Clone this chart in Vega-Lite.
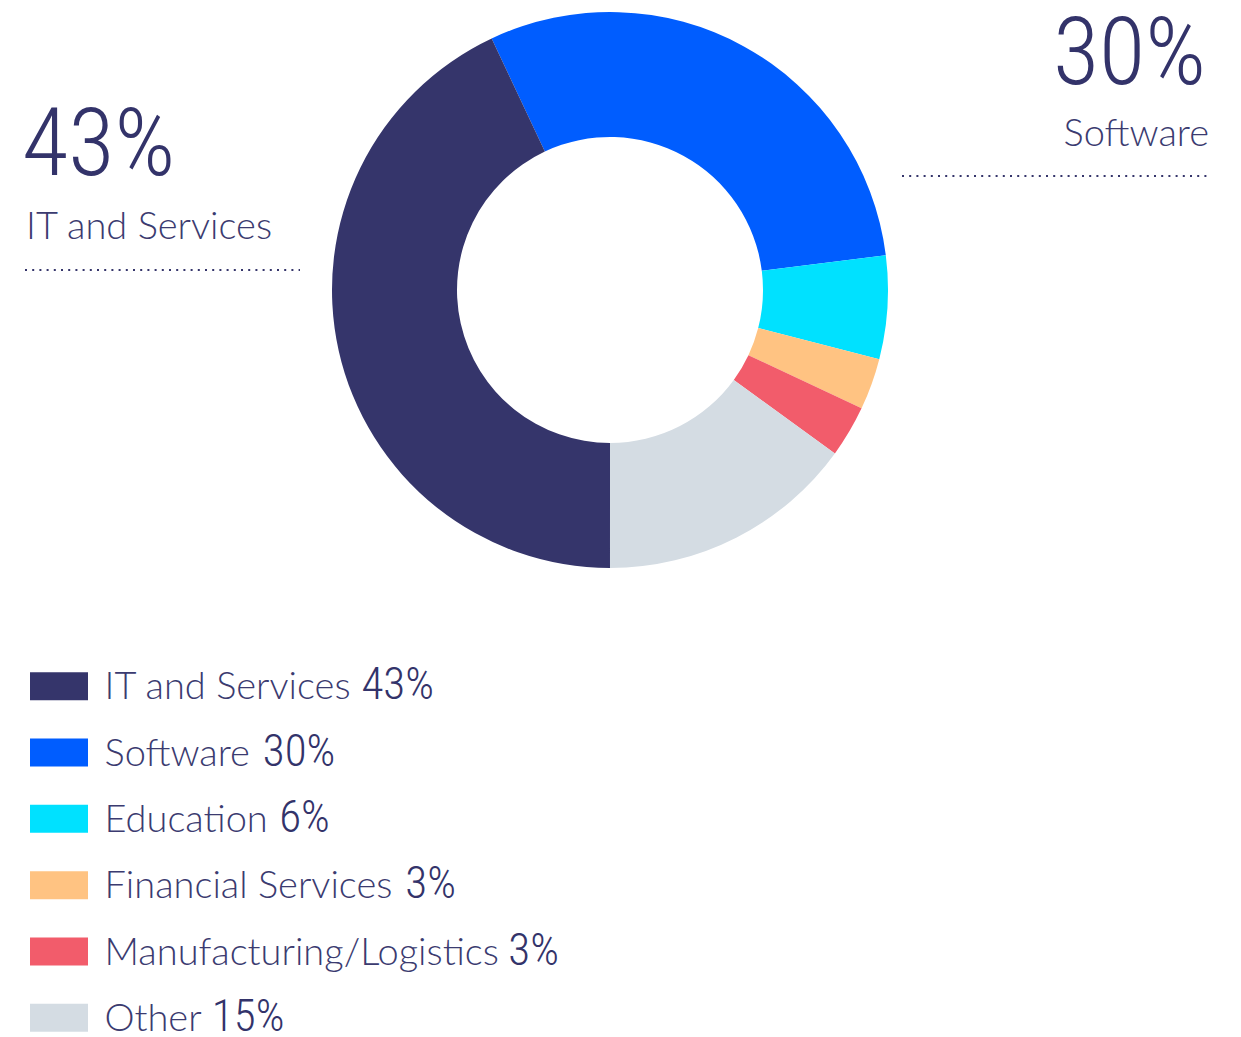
{
  "$schema": "https://vega.github.io/schema/vega-lite/v6.json",
  "padding": 0,
  "background": "white",
  "spacing": 73,
  "config": {"view": {"stroke": null}},
  "datasets": {
    "shares": [
      {"name": "Software", "pct": 30, "ord": 1, "label": "30%"},
      {"name": "Education", "pct": 6, "ord": 2, "label": "6%"},
      {"name": "Financial Services", "pct": 3, "ord": 3, "label": "3%"},
      {"name": "Manufacturing/Logistics", "pct": 3, "ord": 4, "label": "3%"},
      {"name": "Other", "pct": 15, "ord": 5, "label": "15%"},
      {"name": "IT and Services", "pct": 43, "ord": 6, "label": "43%"}
    ],
    "callouts": [
      {"side": "left", "pct": "43%", "name": "IT and Services"},
      {"side": "right", "pct": "30%", "name": "Software"}
    ]
  },
  "vconcat": [
    {
      "width": 1220,
      "height": 580,
      "layer": [
        {
          "data": {"name": "shares"},
          "mark": {"type": "arc", "innerRadius": 153, "outerRadius": 278},
          "encoding": {
            "theta": {"field": "pct", "type": "quantitative", "stack": true, "scale": {"range": [-0.4398, 5.8434]}},
            "color": {
              "field": "name", "type": "nominal", "legend": null,
              "scale": {
                "domain": ["IT and Services", "Software", "Education", "Financial Services", "Manufacturing/Logistics", "Other"],
                "range": ["#35356b", "#005dff", "#00e1ff", "#ffc382", "#f25c6b", "#d4dce3"]
              }
            },
            "order": {"field": "ord", "type": "quantitative"}
          }
        },
        {
          "data": {"name": "callouts"},
          "transform": [{"filter": "datum.side == 'left'"}],
          "mark": {"type": "text", "align": "left", "baseline": "alphabetic", "font": "Roboto Condensed", "fontWeight": 350, "fontSize": 95, "color": "#33336a", "dx": -3},
          "encoding": {
            "x": {"field": "side", "type": "nominal", "scale": {"type": "point", "domain": ["left", "right"], "range": [25, 1208], "padding": 0}, "axis": null},
            "y": {"field": "side", "type": "nominal", "scale": {"type": "point", "domain": ["left", "right"], "range": [175, 84], "padding": 0}, "axis": null},
            "text": {"field": "pct"}
          }
        },
        {
          "data": {"name": "callouts"},
          "transform": [{"filter": "datum.side == 'right'"}],
          "mark": {"type": "text", "align": "right", "baseline": "alphabetic", "font": "Roboto Condensed", "fontWeight": 350, "fontSize": 95, "color": "#33336a", "dx": -2},
          "encoding": {
            "x": {"field": "side", "type": "nominal"},
            "y": {"field": "side", "type": "nominal"},
            "text": {"field": "pct"}
          }
        },
        {
          "data": {"name": "callouts"},
          "transform": [{"filter": "datum.side == 'left'"}],
          "mark": {"type": "text", "align": "left", "baseline": "alphabetic", "font": "Lato", "fontWeight": 300, "fontSize": 38, "color": "#3b3b70", "dy": 64, "dx": 1},
          "encoding": {
            "x": {"field": "side", "type": "nominal"},
            "y": {"field": "side", "type": "nominal"},
            "text": {"field": "name"}
          }
        },
        {
          "data": {"name": "callouts"},
          "transform": [{"filter": "datum.side == 'right'"}],
          "mark": {"type": "text", "align": "right", "baseline": "alphabetic", "font": "Lato", "fontWeight": 300, "fontSize": 38, "color": "#3b3b70", "dy": 62, "dx": 1},
          "encoding": {
            "x": {"field": "side", "type": "nominal"},
            "y": {"field": "side", "type": "nominal"},
            "text": {"field": "name"}
          }
        },
        {
          "data": {"name": "callouts"},
          "transform": [{"filter": "datum.side == 'left'"}],
          "mark": {"type": "rule", "color": "#35356b", "strokeWidth": 2, "strokeDash": [2, 5.2], "yOffset": 95, "x2Offset": 275},
          "encoding": {
            "x": {"field": "side", "type": "nominal"},
            "x2": {"field": "side"},
            "y": {"field": "side", "type": "nominal"}
          }
        },
        {
          "data": {"name": "callouts"},
          "transform": [{"filter": "datum.side == 'right'"}],
          "mark": {"type": "rule", "color": "#35356b", "strokeWidth": 2, "strokeDash": [2, 5.2], "yOffset": 92, "xOffset": -306, "x2Offset": 2},
          "encoding": {
            "x": {"field": "side", "type": "nominal"},
            "x2": {"field": "side"},
            "y": {"field": "side", "type": "nominal"}
          }
        }
      ]
    },
    {
      "width": 1220,
      "height": 398,
      "data": {"name": "shares"},
      "encoding": {
        "y": {
          "field": "name", "type": "nominal", "axis": null,
          "scale": {"type": "point", "padding": 0.5, "domain": ["IT and Services", "Software", "Education", "Financial Services", "Manufacturing/Logistics", "Other"]}
        }
      },
      "layer": [
        {
          "mark": {"type": "point", "shape": "M-1,-0.4828H1V0.4828H-1Z", "filled": true, "size": 3364, "opacity": 1, "strokeWidth": 0},
          "encoding": {
            "x": {"datum": "swatch", "type": "nominal", "scale": {"type": "point", "domain": ["swatch", "name"], "range": [59, 104.5], "padding": 0}, "axis": null},
            "color": {
              "field": "name", "type": "nominal", "legend": null,
              "scale": {
                "domain": ["IT and Services", "Software", "Education", "Financial Services", "Manufacturing/Logistics", "Other"],
                "range": ["#35356b", "#005dff", "#00e1ff", "#ffc382", "#f25c6b", "#d4dce3"]
              }
            }
          }
        },
        {
          "mark": {"type": "text", "align": "left", "baseline": "alphabetic", "dy": 13, "font": "Lato", "fontWeight": 300, "fontSize": 38, "color": "#3b3b70"},
          "encoding": {
            "x": {"datum": "name", "type": "nominal"},
            "text": {"field": "name"}
          }
        },
        {
          "mark": {
            "type": "text", "align": "left", "baseline": "alphabetic", "dy": 13,
            "dx": {"expr": "(8.4*length(replace(datum.name, regexp('[^il]','g'), '')) + 9.3*length(replace(datum.name, regexp('[^I /]','g'), '')) + 12*length(replace(datum.name, regexp('[^ft]','g'), '')) + 13*length(replace(datum.name, regexp('[^r]','g'), '')) + 15.6*length(replace(datum.name, regexp('[^s]','g'), '')) + 17.7*length(replace(datum.name, regexp('[^cav]','g'), '')) + 19.1*length(replace(datum.name, regexp('[^gLeS]','g'), '')) + 20.3*length(replace(datum.name, regexp('[^nudho]','g'), '')) + 21*length(replace(datum.name, regexp('[^FET]','g'), '')) + 29*length(replace(datum.name, regexp('[^wmO]','g'), '')) + 33.4*length(replace(datum.name, regexp('[^M]','g'), ''))) * 1.0425 + 10"},
            "font": "Roboto Condensed", "fontWeight": 350, "fontSize": 45, "color": "#33336a"
          },
          "encoding": {
            "x": {"datum": "name", "type": "nominal"},
            "text": {"field": "label"}
          }
        }
      ]
    }
  ]
}
